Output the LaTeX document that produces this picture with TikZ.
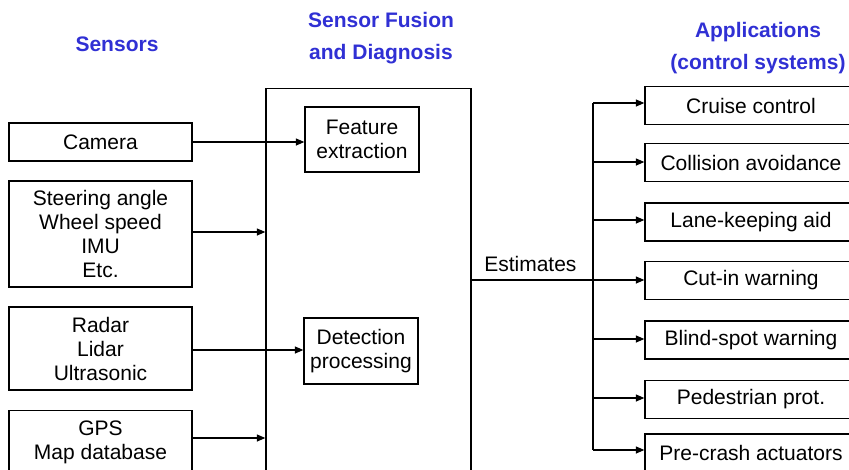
\documentclass[tikz,border=0pt]{standalone}
\usepackage{fontspec}
\setmainfont{Liberation Sans}
\usetikzlibrary{arrows.meta}
\definecolor{headblue}{RGB}{48,48,212}
\begin{document}
\begin{tikzpicture}[x=1pt,y=-1pt,
  every node/.style={font=\fontsize{21}{24}\selectfont},
  box/.style={draw,line width=1.3pt,inner sep=0pt,align=center},
  heading/.style={text=headblue,align=center,font=\fontsize{21}{32}\selectfont\bfseries},
  arr/.style={line width=1.2pt,-{Triangle[length=8.5pt,width=7pt]}},
  wire/.style={line width=1.2pt}]
\useasboundingbox (0,0) rectangle (849,469);
\clip (0,0) rectangle (849,469);

% column headings
\node[heading] (hsens) at (117,44) {Sensors};
\node[heading] (hfus) at (381,38.5) {Sensor Fusion\\and Diagnosis};
\node[heading] (happ) at (758,48.5) {Applications\\(control systems)};

% sensors
\node[box,minimum width=183pt,minimum height=38pt] (cam) at (100.5,142) {Camera};
\node[box,minimum width=183pt,minimum height=106pt] (steer) at (100.5,234)
  {Steering angle\\Wheel speed\\IMU\\Etc.};
\node[box,minimum width=183pt,minimum height=83pt] (radar) at (100.5,348.5)
  {Radar\\Lidar\\Ultrasonic};
\node[box,minimum width=183pt,inner ysep=10pt,anchor=north] (gps) at (100.5,410)
  {GPS\\Map database};

% fusion block
\node[box,minimum width=205pt,minimum height=420pt,anchor=north] (fusion) at (368.5,88) {};
\node[box,minimum width=114pt,minimum height=65pt] (feat) at (362,139.5)
  {Feature\\extraction};
\node[box,minimum width=114pt,minimum height=66pt] (det) at (361,351)
  {Detection\\processing};

% applications
\foreach \n/\y/\t in {cruise/105.5/Cruise control,
                      coll/162.5/Collision avoidance,
                      lane/222/Lane-keeping aid,
                      cutin/280.5/Cut-in warning,
                      blind/340/Blind-spot warning,
                      ped/399.5/Pedestrian prot.,
                      pre/453/Pre-crash actuators}
  \node[box,minimum width=212pt,minimum height=38pt] (\n) at (751,\y) {\t};

% sensor inputs
\draw[arr] (cam.east) -- (cam.east -| feat.west);
\draw[arr] (steer.east |- 0,232) -- (fusion.west |- 0,232);
\draw[arr] (radar.east |- 0,350) -- (radar.east |- 0,350 -| det.west);
\draw[arr] (gps.east |- 0,438) -- (fusion.west |- 0,438);

% estimates distribution
\coordinate (bustop) at (593,103);
\coordinate (busbot) at (593,450);
\draw[arr] (fusion.east |- 0,280) -- node[pos=0.34,above=8pt,inner sep=0pt] (est) {Estimates}
  (fusion.east |- 0,280 -| cutin.west);
\draw[wire] (bustop) -- (busbot);
\draw[arr] (bustop) -- (bustop -| cruise.west);
\draw[arr] (bustop |- 0,162) -- (bustop |- 0,162 -| coll.west);
\draw[arr] (bustop |- 0,220) -- (bustop |- 0,220 -| lane.west);
\draw[arr] (bustop |- 0,339) -- (bustop |- 0,339 -| blind.west);
\draw[arr] (bustop |- 0,398) -- (bustop |- 0,398 -| ped.west);
\draw[arr] (busbot) -- (busbot -| pre.west);
\end{tikzpicture}
\end{document}
